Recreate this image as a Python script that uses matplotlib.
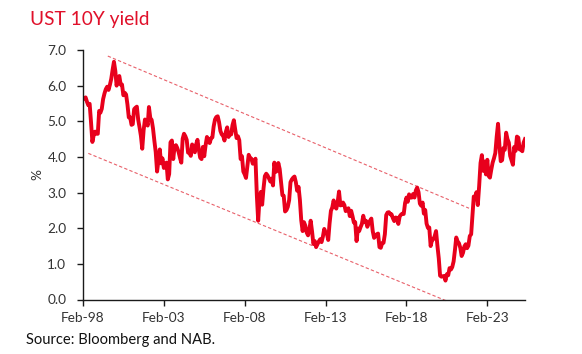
import matplotlib
matplotlib.use("Agg")
import matplotlib.pyplot as plt
import matplotlib.dates as mdates
import pandas as pd
import numpy as np

# Monthly UST 10Y yield (%), Feb-1998 .. Jun-2025
y1998 = [5.62, 5.65, 5.67, 5.55, 5.45, 5.49, 4.98, 4.42, 4.61, 4.71, 4.65]
y1999 = [4.65, 5.29, 5.24, 5.35, 5.62, 5.78, 5.90, 5.97, 5.88, 6.02, 6.19, 6.44]
y2000 = [6.67, 6.41, 6.00, 6.21, 6.27, 6.03, 6.03, 5.73, 5.80, 5.75, 5.47, 5.11]
y2001 = [5.11, 4.90, 4.92, 5.34, 5.38, 5.41, 5.05, 4.83, 4.59, 4.23, 4.75, 5.05]
y2002 = [5.03, 4.88, 5.40, 5.09, 5.04, 4.80, 4.46, 4.14, 3.59, 3.89, 4.21, 3.82]
y2003 = [3.96, 3.69, 3.80, 3.84, 3.37, 3.52, 4.41, 4.46, 3.94, 4.29, 4.33, 4.25]
y2004 = [4.13, 3.97, 3.84, 4.51, 4.65, 4.58, 4.48, 4.12, 4.12, 4.03, 4.35, 4.22]
y2005 = [4.13, 4.36, 4.48, 4.20, 3.98, 3.94, 4.28, 4.02, 4.33, 4.56, 4.49, 4.39]
y2006 = [4.52, 4.55, 4.85, 5.05, 5.12, 5.14, 4.98, 4.73, 4.63, 4.60, 4.46, 4.70]
y2007 = [4.83, 4.56, 4.64, 4.63, 4.89, 5.03, 4.77, 4.53, 4.58, 4.47, 3.94, 4.02]
y2008 = [3.59, 3.51, 3.41, 3.73, 4.06, 3.97, 3.95, 3.81, 3.83, 3.95, 2.92, 2.21]
y2009 = [2.84, 3.02, 2.66, 3.12, 3.46, 3.53, 3.48, 3.40, 3.31, 3.39, 3.20, 3.84]
y2010 = [3.58, 3.61, 3.83, 3.66, 3.29, 2.93, 2.91, 2.47, 2.51, 2.60, 2.79, 3.29]
y2011 = [3.37, 3.42, 3.45, 3.29, 3.05, 3.16, 2.80, 2.22, 1.92, 2.17, 2.07, 1.88]
y2012 = [1.80, 1.97, 2.21, 1.91, 1.56, 1.64, 1.47, 1.55, 1.63, 1.69, 1.61, 1.76]
y2013 = [1.98, 1.88, 1.85, 1.67, 2.13, 2.49, 2.58, 2.78, 2.61, 2.55, 2.74, 3.03]
y2014 = [2.64, 2.65, 2.72, 2.65, 2.48, 2.53, 2.56, 2.34, 2.49, 2.34, 2.16, 2.17]
y2015 = [1.64, 1.99, 1.92, 2.03, 2.12, 2.35, 2.18, 2.21, 2.04, 2.14, 2.21, 2.27]
y2016 = [1.92, 1.73, 1.77, 1.83, 1.85, 1.47, 1.45, 1.58, 1.59, 1.83, 2.37, 2.44]
y2017 = [2.45, 2.39, 2.39, 2.28, 2.20, 2.30, 2.29, 2.12, 2.33, 2.38, 2.41, 2.40]
y2018 = [2.71, 2.86, 2.74, 2.95, 2.86, 2.86, 2.96, 2.86, 3.06, 3.14, 3.01, 2.69]
y2019 = [2.63, 2.72, 2.41, 2.51, 2.13, 2.01, 2.02, 1.50, 1.67, 1.69, 1.78, 1.92]
y2020 = [1.51, 1.15, 0.67, 0.64, 0.65, 0.66, 0.53, 0.71, 0.68, 0.88, 0.84, 0.91]
y2021 = [1.07, 1.40, 1.74, 1.63, 1.58, 1.45, 1.22, 1.31, 1.49, 1.55, 1.44, 1.51]
y2022 = [1.78, 1.83, 2.32, 2.89, 2.84, 3.01, 2.65, 3.19, 3.83, 4.05, 3.61, 3.87]
y2023 = [3.51, 3.92, 3.47, 3.42, 3.64, 3.84, 3.96, 4.11, 4.57, 4.93, 4.33, 3.88]
y2024 = [3.91, 4.25, 4.20, 4.68, 4.50, 4.40, 4.03, 3.90, 3.78, 4.28, 4.17, 4.57]
y2025 = [4.54, 4.21, 4.21, 4.16, 4.40, 4.50]

yields = (y1998 + y1999 + y2000 + y2001 + y2002 + y2003 + y2004 + y2005 + y2006
          + y2007 + y2008 + y2009 + y2010 + y2011 + y2012 + y2013 + y2014 + y2015
          + y2016 + y2017 + y2018 + y2019 + y2020 + y2021 + y2022 + y2023 + y2024
          + y2025)
dates = pd.date_range("1998-02-01", periods=len(yields), freq="MS")

# Channel (trend) lines: start/end dates and values
upper_dates = ["1999-08-15", "2021-12-15"]
upper_vals = [6.83, 2.56]
lower_dates = ["1998-06-01", "2020-08-15"]
lower_vals = [4.10, -0.05]

xtick_dates = ["1998-02-01", "2003-02-01", "2008-02-01", "2013-02-01",
               "2018-02-01", "2023-02-01"]
yticks = [0, 1, 2, 3, 4, 5, 6, 7]

title = "UST 10Y yield"
source = "Source: Bloomberg and NAB."

FONT = ["Lato", "DejaVu Sans"]
plt.rcParams["font.family"] = FONT

RED = "#e8001c"
fig = plt.figure(figsize=(5.82, 3.54), dpi=100)
ax = fig.add_axes([83 / 582, 1 - 299.5 / 354, (525 - 83) / 582, (299.5 - 50) / 354])

ax.plot(pd.to_datetime(upper_dates), upper_vals, color="#e8606a", lw=0.8,
        dashes=(3, 2), clip_on=False)
ax.plot(pd.to_datetime(lower_dates), lower_vals, color="#e8606a", lw=0.8,
        dashes=(3, 2), clip_on=False)
ax.plot(dates, yields, color=RED, lw=2.8, solid_joinstyle="round")

ax.set_ylim(0, 7)
ax.set_yticks(yticks)
ax.set_yticklabels([f"{v:.1f}" for v in yticks])
ax.set_xlim(pd.Timestamp("1998-02-01"), dates[-1])
ax.set_xticks(pd.to_datetime(xtick_dates))
ax.xaxis.set_major_formatter(mdates.DateFormatter("%b-%y"))

for s in ["top", "right"]:
    ax.spines[s].set_visible(False)
for s in ["left", "bottom"]:
    ax.spines[s].set_color("#1a1a1a")
    ax.spines[s].set_linewidth(1.0)
ax.tick_params(axis="both", direction="out", length=4, width=1.0,
               color="#1a1a1a", labelsize=9.8, labelcolor="#333333")
ax.tick_params(axis="y", pad=8)
ax.tick_params(axis="x", pad=5)

ax.set_ylabel("%", fontsize=9.8, color="#333333", labelpad=3)

fig.text(30 / 582, 1 - 20 / 354, title, color="#e0102a", fontsize=13.8,
         va="center", ha="left")
fig.text(26 / 582, 1 - 340 / 354, source, color="#111111", fontsize=10.6,
         va="center", ha="left")

fig.savefig("out.png", dpi=100)
